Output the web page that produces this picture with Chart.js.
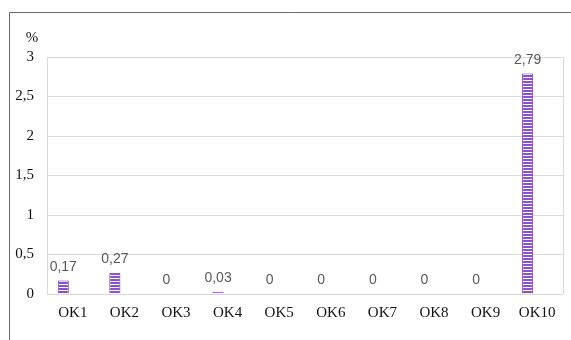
<!DOCTYPE html>
<html>
<head>
<meta charset="utf-8">
<script src="https://cdn.jsdelivr.net/npm/chart.js@4"></script>
<style>
  html, body { margin: 0; padding: 0; background: #fff; }
  #wrap { width: 571px; height: 340px; position: relative; }
</style>
</head>
<body>
<div id="wrap"><canvas id="c" width="571" height="340"></canvas></div>
<script>
// Categories and values (percent)
const categories = ['OK1', 'OK2', 'OK3', 'OK4', 'OK5', 'OK6', 'OK7', 'OK8', 'OK9', 'OK10'];
const shareValues = [0.17, 0.27, 0, 0.03, 0, 0, 0, 0, 0, 2.79];
// Second series of the clustered layout carries no values
const secondValues = [null, null, null, null, null, null, null, null, null, null];
const yTicks = [0, 0.5, 1, 1.5, 2, 2.5, 3];

const fmt = v => String(v).replace('.', ',');

// Horizontal stripe fill for the bars
function stripePattern() {
  const p = document.createElement('canvas');
  p.width = 4; p.height = 3;
  const g = p.getContext('2d');
  g.fillStyle = '#ffffff';
  g.fillRect(0, 0, 4, 3);
  g.fillStyle = '#8a52c8';
  g.fillRect(0, 0, 4, 2);
  return g.createPattern(p, 'repeat');
}
const ctx0 = document.getElementById('c').getContext('2d');

const framePlugin = {
  id: 'frame',
  beforeDraw(chart) {
    const c = chart.ctx;
    c.save();
    c.fillStyle = '#fff';
    c.fillRect(0, 0, chart.width, chart.height);
    c.strokeStyle = '#6b6b6b';
    c.lineWidth = 1;
    c.beginPath();
    c.moveTo(9.5, chart.height);
    c.lineTo(9.5, 12.5);
    c.lineTo(chart.width, 12.5);
    c.stroke();
    c.restore();
  },
  afterDatasetsDraw(chart) {
    const c = chart.ctx;
    const a = chart.chartArea;
    c.save();
    // plot area outline
    c.strokeStyle = '#c9dcf1';
    c.lineWidth = 1;
    c.beginPath();
    c.moveTo(Math.round(a.left) + 0.5, Math.round(a.bottom));
    c.lineTo(Math.round(a.left) + 0.5, Math.round(a.top) + 0.5);
    c.lineTo(Math.round(a.right) + 0.5, Math.round(a.top) + 0.5);
    c.lineTo(Math.round(a.right) + 0.5, Math.round(a.bottom));
    c.stroke();
    // value labels
    const meta = chart.getDatasetMeta(0);
    c.fillStyle = '#595959';
    c.font = '14px "Liberation Sans", Arial, sans-serif';
    c.textAlign = 'center';
    c.textBaseline = 'alphabetic';
    meta.data.forEach((bar, i) => {
      c.fillText(fmt(shareValues[i]), bar.x, bar.y - 10);
    });
    // unit label above the value axis
    c.fillStyle = '#111';
    c.font = '15px "Liberation Serif", "Times New Roman", serif';
    c.textAlign = 'center';
    c.textBaseline = 'middle';
    c.fillText('%', 32, 38);
    c.restore();
  }
};

new Chart(ctx0, {
  type: 'bar',
  data: {
    labels: categories,
    datasets: [
      {
        data: shareValues,
        backgroundColor: stripePattern(),
        borderColor: '#7533b5',
        borderWidth: 1,
        categoryPercentage: 0.74,
        barPercentage: 0.58
      },
      {
        data: secondValues,
        backgroundColor: '#ffffff',
        borderWidth: 0,
        categoryPercentage: 0.74,
        barPercentage: 0.58
      }
    ]
  },
  options: {
    responsive: false,
    animation: false,
    layout: { padding: { left: 0, right: 8, top: 57, bottom: 0 } },
    plugins: { legend: { display: false }, tooltip: { enabled: false } },
    scales: {
      x: {
        grid: { display: false, drawTicks: false },
        border: { display: false },
        ticks: {
          color: '#111',
          padding: 10,
          maxRotation: 0,
          font: { family: '"Liberation Serif", "Times New Roman", serif', size: 15 }
        },
        afterFit: s => { s.height = 46; }
      },
      y: {
        min: 0,
        max: 3,
        afterBuildTicks: s => { s.ticks = yTicks.map(v => ({ value: v })); },
        grid: { color: '#d9d9d9', drawTicks: false },
        border: { display: false },
        ticks: {
          color: '#111',
          padding: 13,
          callback: v => fmt(v),
          font: { family: '"Liberation Serif", "Times New Roman", serif', size: 15 }
        },
        afterFit: s => { s.width = 47; }
      }
    }
  },
  plugins: [framePlugin]
});
</script>
</body>
</html>
